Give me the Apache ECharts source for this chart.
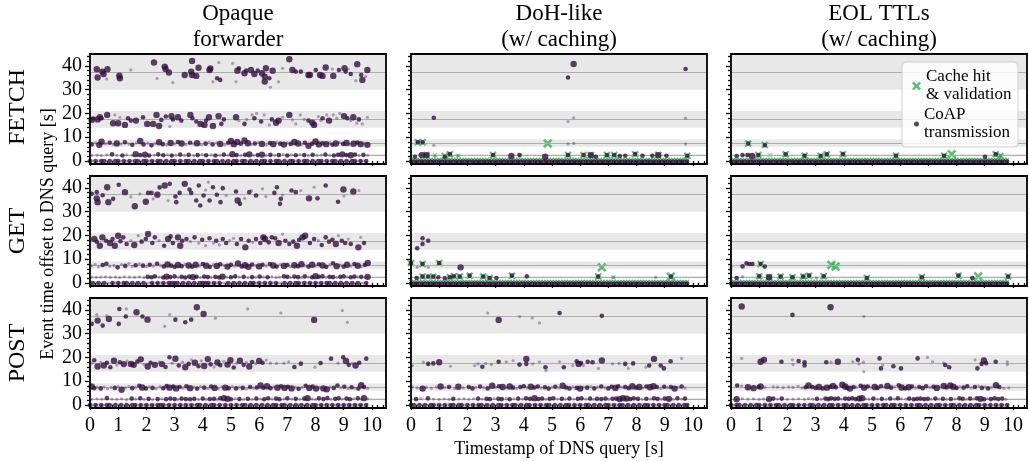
<!DOCTYPE html>
<html><head><meta charset="utf-8">
<script src="https://cdn.jsdelivr.net/npm/echarts@6/dist/echarts.min.js"></script>
<style>html,body{margin:0;padding:0;background:#fff}#c{width:1029px;height:461px}</style>
</head><body><div id="c"></div><script>
// ---------- text ----------
const colTitles = ['Opaque\nforwarder', 'DoH-like\n(w/ caching)', 'EOL TTLs\n(w/ caching)'];
const rowTitles = ['FETCH', 'GET', 'POST'];
const yTitle = 'Event time offset to DNS query [s]';
const xTitle = 'Timestamp of DNS query [s]';
const legendNames = ['Cache hit & validation', 'CoAP transmission'];
const xTickValues = [0,1,2,3,4,5,6,7,8,9,10];
const yTickValues = [0,10,20,30,40];
// CoAP retransmission windows and their means
const bands = [[2,3],[6,9],[14,21],[30,45]];
const refLines = [2.5, 7.5, 17.5, 37.5];

// ---------- data: [timestamp, offset, weight] ----------
const queryTimes = [0,0.1,0.2,0.3,0.4,0.5,0.6,0.7,0.8,0.9,1,1.1,1.2,1.3,1.4,1.5,1.6,1.7,1.8,1.9,2,2.1,2.2,2.3,2.4,2.5,2.6,2.7,2.8,2.9,3,3.1,3.2,3.3,3.4,3.5,3.6,3.7,3.8,3.9,4,4.1,4.2,4.3,4.4,4.5,4.6,4.7,4.8,4.9,5,5.1,5.2,5.3,5.4,5.5,5.6,5.7,5.8,5.9,6,6.1,6.2,6.3,6.4,6.5,6.6,6.7,6.8,6.9,7,7.1,7.2,7.3,7.4,7.5,7.6,7.7,7.8,7.9,8,8.1,8.2,8.3,8.4,8.5,8.6,8.7,8.8,8.9,9,9.1,9.2,9.3,9.4,9.5,9.6,9.7,9.8];

const fetchOpaqueZero = '212122121221212122122121221212212122121221212212121221221212122121221212212122121221212212121221212';
const getOpaqueZero   = '121212112121221212121121212122221212121222212121121212121221212121211212122121212121221212121212112';
const postOpaqueZero  = '212121221212121221212121222121212121212212122121212121221212121212212212121212122121212121212121212';
const postDohZero     = '221212122121212212212121221212122121221212212121221212122121212212121221212212121212212121221212122';
const postEolZero     = '212212121221212122121221212122121212212122121212212121221221212121221212122121221212121221212121212';

const fetchOpaque37 = [[0.24,38.6,3],[0.27,35.1,3],[0.44,37.6,3],[0.48,36.6,3],[0.59,34.5,1],[0.62,38.6,3],[1.04,35.9,3],[1.06,34.8,3],[1.45,38.3,1],[2.27,41.4,3],[2.38,34.7,1],[2.65,39.7,3],[2.68,38.7,3],[2.8,37.2,3],[2.94,33.0,1],[3.36,36.2,3],[3.59,37.6,3],[3.62,42.1,3],[3.62,36.2,3],[3.77,35.8,3],[3.85,39.2,3],[4.24,38.3,3],[4.27,38.9,3],[4.36,33.3,1],[4.51,34.8,2],[4.62,34.1,2],[4.57,41.4,1],[5.06,41.1,1],[5.18,33.3,1],[5.23,38.0,3],[5.28,39.0,2],[5.48,36.9,3],[5.54,38.0,2],[5.71,38.3,3],[5.83,36.6,3],[5.95,38.0,2],[6.1,36.9,3],[6.2,35.5,3],[6.24,39.0,3],[6.2,33.4,3],[6.36,34.8,2],[6.4,31.0,1],[6.48,38.0,3],[6.69,33.3,1],[6.83,39.0,1],[7.07,42.8,3],[7.18,38.3,3],[7.3,37.6,2],[7.48,37.6,2],[7.75,36.2,3],[7.8,36.2,3],[8.01,38.3,2],[8.16,36.2,3],[8.25,35.8,3],[8.36,39.3,3],[8.6,38.7,1],[8.63,35.8,3],[8.83,38.3,2],[9.03,39.0,3],[9.07,37.6,2],[9.16,38.7,1],[9.25,36.6,2],[9.43,33.8,1],[9.48,40.7,3],[9.62,36.2,2],[9.66,34.1,3],[9.78,35.5,1],[9.84,38.3,3]];
const fetchOpaque17 = [[0.06,17.3,3],[0.12,17.9,2],[0.27,17.5,3],[0.35,18.4,3],[0.41,18.0,2],[0.61,19.4,3],[0.82,15.9,3],[0.88,19.4,1],[1.0,15.9,3],[1.06,18.4,1],[1.24,15.2,3],[1.35,18.0,2],[1.45,17.0,2],[1.63,17.0,3],[1.88,18.4,2],[2.03,15.6,3],[2.24,15.6,3],[2.36,19.4,3],[2.45,14.7,3],[2.53,17.3,2],[2.69,18.7,2],[2.83,14.5,1],[2.89,18.9,3],[2.94,17.5,2],[3.12,18.4,3],[3.24,17.0,2],[3.56,19.4,3],[3.63,18.0,2],[3.77,16.6,2],[3.92,15.6,3],[4.06,15.2,3],[4.12,17.0,2],[4.22,18.4,3],[4.36,14.7,3],[4.56,18.9,3],[4.66,15.6,2],[4.75,17.5,2],[5.18,18.4,3],[5.28,17.0,1],[5.48,15.6,2],[5.56,17.5,1],[5.75,19.4,1],[5.83,18.0,2],[5.91,20.0,1],[6.07,16.6,2],[6.18,19.4,1],[6.36,15.2,1],[6.45,17.5,2],[6.6,16.1,3],[6.69,17.0,3],[6.83,18.4,1],[7.07,19.4,3],[7.18,17.3,1],[7.3,15.6,1],[7.46,19.4,1],[7.6,17.5,1],[7.75,17.0,2],[7.89,16.1,3],[7.95,15.2,3],[8.1,18.7,1],[8.19,17.0,1],[8.25,18.0,2],[8.4,19.4,1],[8.48,17.0,3],[8.63,19.4,1],[8.75,18.0,1],[8.86,20.0,1],[9.01,18.9,3],[9.13,18.0,2],[9.25,17.0,1],[9.34,18.4,3],[9.46,15.9,1],[9.54,17.5,2],[9.66,15.6,1],[9.84,18.4,1]];
const fetchOpaque7 = [[0.06,7.0,2],[0.2,7.6,1],[0.33,6.8,3],[0.41,8.1,3],[0.55,7.3,1],[0.7,7.7,2],[0.83,6.9,1],[0.95,7.4,3],[1.1,7.1,1],[1.24,7.9,2],[1.38,7.2,1],[1.5,6.8,2],[1.65,7.6,1],[1.78,8.4,3],[1.9,7.0,2],[2.05,7.5,1],[2.18,6.6,2],[2.3,7.3,1],[2.45,7.9,3],[2.58,7.1,2],[2.72,6.7,1],[2.86,7.6,3],[3.0,7.2,1],[3.12,8.0,2],[3.25,7.4,3],[3.4,6.9,1],[3.55,7.7,2],[3.68,7.2,1],[3.8,7.5,3],[3.95,6.8,1],[4.1,7.3,2],[4.22,7.9,1],[4.35,7.0,2],[4.5,7.6,1],[4.62,7.2,3],[4.78,6.8,1],[4.9,7.7,2],[5.0,8.4,3],[5.1,7.1,3],[5.22,8.0,3],[5.35,7.3,2],[5.48,8.6,3],[5.6,7.5,3],[5.72,6.9,1],[5.85,7.4,2],[5.98,7.8,1],[6.1,7.2,3],[6.25,6.7,1],[6.38,7.6,2],[6.5,7.1,3],[6.62,7.9,1],[6.75,7.3,2],[6.88,6.9,3],[7.0,7.6,1],[7.12,7.2,2],[7.25,8.0,3],[7.38,7.4,3],[7.5,6.8,1],[7.62,7.7,2],[7.75,6.4,3],[7.88,7.3,2],[8.0,8.2,3],[8.12,7.0,3],[8.25,7.5,2],[8.38,7.1,3],[8.5,7.7,1],[8.6,6.9,2],[8.72,7.4,3],[8.85,7.8,1],[8.98,7.2,2],[9.1,7.6,3],[9.22,6.9,1],[9.35,7.3,3],[9.48,7.8,2],[9.6,7.1,3],[9.72,7.5,1],[9.84,6.8,3]];
const fetchOpaque2 = [[0.06,2.4,1],[0.25,2.5,1],[0.4,2.3,1],[0.6,2.6,1],[0.78,2.8,2],[0.95,2.4,1],[1.15,2.3,2],[1.3,2.6,1],[1.5,2.4,1],[1.62,2.9,3],[1.78,2.5,2],[1.95,2.7,3],[2.1,2.3,2],[2.28,2.5,1],[2.42,2.8,2],[2.6,2.4,2],[2.75,2.6,1],[2.9,2.3,2],[3.05,2.5,1],[3.2,2.7,2],[3.35,2.4,1],[3.5,2.6,2],[3.68,2.3,1],[3.82,2.5,2],[3.98,2.8,1],[4.12,2.4,2],[4.3,2.6,1],[4.45,2.3,2],[4.6,2.5,1],[4.75,2.7,2],[4.9,2.4,1],[5.05,2.9,3],[5.2,2.5,2],[5.35,2.3,1],[5.5,2.6,2],[5.65,2.8,3],[5.8,2.4,1],[5.95,2.5,2],[6.1,2.7,3],[6.25,2.3,1],[6.4,2.6,2],[6.55,2.4,1],[6.7,2.5,2],[6.85,2.8,1],[7.0,2.3,2],[7.15,2.6,1],[7.3,2.4,2],[7.45,2.7,1],[7.6,2.5,2],[7.75,2.3,1],[7.9,2.6,2],[8.05,2.4,1],[8.2,2.5,1],[8.35,2.7,2],[8.5,2.4,1],[8.65,2.3,2],[8.8,2.6,2],[8.95,2.8,3],[9.1,2.5,2],[9.25,2.4,3],[9.4,2.7,2],[9.55,2.3,1],[9.7,2.6,2],[9.85,2.4,1]];

const getOpaque37 = [[0.06,37.5,2],[0.24,38.2,2],[0.24,35.6,3],[0.27,34.0,3],[0.45,36.9,2],[0.61,40.3,3],[0.65,34.0,3],[0.82,35.4,2],[1.02,41.3,2],[1.24,38.2,3],[1.45,36.2,1],[1.59,32.3,3],[1.77,37.5,1],[1.98,34.2,3],[2.06,37.9,2],[2.18,37.9,2],[2.24,35.4,1],[2.39,37.1,3],[2.47,40.2,2],[2.65,41.0,3],[2.77,34.7,1],[2.83,41.7,2],[3.03,36.4,2],[3.06,34.0,2],[3.18,37.9,2],[3.36,41.7,3],[3.53,39.3,2],[3.59,37.9,2],[3.77,34.7,2],[3.86,41.0,2],[3.91,32.6,2],[4.03,36.8,2],[4.1,39.1,1],[4.2,42.4,1],[4.24,34.7,2],[4.36,40.3,2],[4.5,37.1,2],[4.63,34.0,2],[4.71,39.9,2],[4.83,36.8,1],[5.18,38.5,2],[5.24,34.7,3],[5.32,33.3,2],[5.48,35.6,1],[5.65,38.2,2],[5.73,38.9,1],[5.89,36.8,2],[6.12,39.6,1],[6.24,36.4,1],[6.54,37.9,2],[6.63,40.3,2],[6.77,35.4,2],[6.74,33.3,2],[6.83,37.0,1],[7.15,38.9,2],[7.3,38.2,2],[7.48,38.9,1],[7.77,35.6,3],[7.95,40.3,1],[8.07,35.6,2],[8.36,41.0,2],[8.8,34.2,2],[8.99,39.3,3],[9.01,36.6,1],[9.34,38.5,3],[9.54,38.9,1]];
const getOpaque17 = [[0.15,18.5,3],[0.24,17.4,2],[0.35,15.7,3],[0.44,19.2,3],[0.57,17.8,2],[0.71,16.8,3],[0.8,18.5,2],[0.88,15.7,3],[1.0,19.9,3],[1.08,17.6,2],[1.18,19.2,2],[1.3,16.4,2],[1.45,17.8,1],[1.57,16.0,3],[1.71,19.9,1],[1.83,17.4,2],[1.98,18.5,2],[2.06,20.6,3],[2.21,16.8,2],[2.3,19.2,2],[2.45,17.8,1],[2.63,15.7,2],[2.77,18.5,3],[2.86,19.6,2],[2.94,16.8,2],[3.12,19.2,3],[3.2,15.7,3],[3.27,17.8,2],[3.42,18.5,2],[3.56,17.4,1],[3.71,19.2,2],[3.86,16.8,1],[3.98,18.2,2],[4.1,15.7,1],[4.24,18.8,2],[4.38,16.8,1],[4.48,17.8,2],[4.59,16.0,1],[4.71,18.5,2],[4.83,16.8,2],[4.95,17.8,1],[5.09,18.8,1],[5.21,16.4,2],[5.36,18.5,2],[5.51,15.0,3],[5.63,17.8,2],[5.77,17.1,1],[5.89,18.5,2],[6.04,16.8,2],[6.15,19.2,3],[6.21,18.5,3],[6.34,17.1,2],[6.45,19.2,2],[6.57,18.8,2],[6.69,16.8,3],[6.83,20.6,1],[6.93,17.8,2],[7.07,16.4,2],[7.21,17.4,2],[7.34,15.7,3],[7.42,18.2,2],[7.54,19.2,3],[7.63,19.9,3],[7.8,16.8,2],[7.95,18.5,2],[8.1,17.8,1],[8.22,16.0,2],[8.36,19.2,2],[8.48,17.4,2],[8.6,18.2,2],[8.72,16.4,3],[8.81,19.9,1],[8.93,17.8,2],[9.05,16.8,2],[9.16,18.5,1],[9.25,16.4,2],[9.52,15.0,3],[9.6,19.2,1],[9.72,16.8,2]];
const getOpaque7 = [[0.06,7.2,1],[0.18,7.9,1],[0.3,6.8,1],[0.45,7.6,2],[0.58,8.1,2],[0.7,7.1,1],[0.85,7.4,1],[0.98,6.6,2],[1.12,7.8,1],[1.25,7.2,2],[1.38,8.3,1],[1.5,7.0,1],[1.62,7.5,2],[1.75,8.0,1],[1.88,7.3,2],[2.0,6.9,1],[2.12,7.7,2],[2.25,7.2,1],[2.38,8.1,2],[2.5,7.4,1],[2.62,7.0,2],[2.75,7.8,3],[2.88,7.3,2],[3.0,6.8,2],[3.12,7.6,3],[3.25,7.1,2],[3.38,7.9,1],[3.5,7.4,3],[3.62,6.9,2],[3.75,7.7,3],[3.88,7.2,1],[4.0,8.0,2],[4.12,7.3,3],[4.25,6.8,2],[4.38,7.6,1],[4.5,7.2,3],[4.62,7.9,2],[4.75,7.4,1],[4.88,6.9,3],[5.0,7.7,2],[5.12,7.2,1],[5.25,8.2,3],[5.38,7.0,2],[5.5,7.5,3],[5.62,6.8,3],[5.75,7.8,2],[5.88,7.3,1],[6.0,7.0,3],[6.12,7.7,2],[6.25,7.2,1],[6.38,8.0,2],[6.5,7.4,3],[6.62,6.9,2],[6.75,7.8,1],[6.88,7.2,3],[7.0,7.6,2],[7.12,6.8,1],[7.25,7.5,3],[7.38,7.1,2],[7.5,7.9,3],[7.62,7.3,1],[7.75,6.9,2],[7.88,7.7,3],[8.0,7.2,1],[8.12,7.9,2],[8.25,7.4,3],[8.38,6.8,2],[8.5,7.6,1],[8.62,8.3,2],[8.75,7.1,3],[8.88,7.5,1],[9.0,6.9,2],[9.12,7.7,3],[9.25,7.2,1],[9.38,8.0,2],[9.5,7.3,3],[9.62,6.8,1],[9.75,7.6,2],[9.85,8.4,3]];
const getOpaque2 = [[0.06,2.5,1],[0.22,2.4,1],[0.38,2.5,1],[0.55,2.6,1],[0.72,2.4,1],[0.9,2.5,1],[1.05,2.3,1],[1.22,2.6,1],[1.4,2.5,1],[1.58,2.4,1],[1.75,2.6,1],[1.92,2.3,1],[2.05,2.6,2],[2.18,2.4,2],[2.3,2.8,2],[2.45,2.5,1],[2.6,2.3,2],[2.72,2.7,3],[2.85,2.5,2],[3.0,2.8,2],[3.12,2.4,1],[3.25,2.6,2],[3.38,2.3,2],[3.52,2.7,2],[3.65,2.5,3],[3.78,2.6,2],[3.92,2.3,1],[4.05,2.7,2],[4.18,2.5,2],[4.3,2.4,1],[4.45,2.6,2],[4.58,2.3,2],[4.7,2.7,3],[4.85,2.5,1],[5.0,2.4,2],[5.15,2.8,2],[5.3,2.5,1],[5.45,2.6,2],[5.6,2.3,1],[5.75,2.5,2],[5.88,2.4,1],[6.02,2.7,2],[6.15,2.5,1],[6.3,2.4,2],[6.45,2.6,1],[6.6,2.3,1],[6.72,2.5,1],[6.88,2.8,2],[7.0,2.6,2],[7.12,2.4,1],[7.25,2.7,2],[7.38,2.5,2],[7.5,2.3,1],[7.62,2.8,2],[7.75,2.5,1],[7.88,2.4,2],[8.0,2.9,3],[8.12,2.6,2],[8.25,2.8,2],[8.38,2.4,1],[8.5,2.6,2],[8.62,2.5,2],[8.75,2.3,1],[8.88,2.6,2],[9.0,2.8,2],[9.12,2.5,1],[9.25,2.4,2],[9.38,2.7,2],[9.5,2.5,1],[9.62,2.6,2],[9.75,2.4,1],[9.85,2.6,3]];

const postOpaque37 = [[0.06,34.1,2],[0.24,38.0,1],[0.27,35.5,3],[0.45,33.4,2],[0.59,37.6,1],[0.67,36.2,3],[1.02,34.1,2],[1.04,40.4,2],[1.27,37.2,2],[1.29,40.4,1],[1.65,39.0,3],[1.86,37.2,2],[2.04,35.9,3],[2.65,33.1,1],[2.83,38.0,1],[3.03,35.9,2],[3.38,34.8,2],[3.59,35.9,2],[3.79,41.1,3],[4.03,38.3,3],[4.45,36.5,1],[5.59,40.4,1],[6.77,38.7,1],[7.95,35.8,3],[8.95,39.7,1],[9.13,34.8,1]];
const postOpaque17 = [[0.06,17.6,1],[0.15,18.8,2],[0.27,16.2,3],[0.38,17.9,1],[0.49,16.6,3],[0.6,17.8,2],[0.72,15.9,2],[0.85,18.6,3],[0.95,16.8,1],[1.06,18.0,2],[1.2,17.2,3],[1.32,18.5,1],[1.45,17.3,3],[1.55,16.9,3],[1.68,18.3,2],[1.8,19.2,3],[1.92,17.0,1],[2.05,16.2,3],[2.15,17.8,2],[2.3,16.9,3],[2.45,18.1,1],[2.55,17.2,3],[2.68,16.0,2],[2.82,20.1,2],[2.92,17.6,1],[3.03,19.5,3],[3.15,16.6,2],[3.28,18.0,1],[3.38,15.9,3],[3.5,17.3,2],[3.6,19.0,1],[3.72,17.8,3],[3.85,16.3,2],[3.95,18.6,1],[4.05,16.4,3],[4.18,19.3,3],[4.28,17.1,2],[4.4,16.0,1],[4.52,17.9,3],[4.62,16.7,2],[4.75,18.3,1],[4.88,17.0,3],[4.98,18.8,3],[5.1,15.8,2],[5.2,17.6,1],[5.32,18.6,3],[5.45,16.9,2],[5.55,17.9,1],[5.65,16.2,3],[5.75,18.1,2],[5.88,17.4,1],[6.0,18.5,3],[6.12,17.8,2],[6.25,18.9,1],[6.4,17.6,1],[6.62,17.5,1],[6.88,17.6,1],[7.05,18.2,1],[7.25,16.0,2],[7.48,17.4,2],[7.98,15.9,1],[8.18,17.7,2],[8.55,19.5,2],[8.8,17.6,1],[8.98,20.1,2],[9.08,18.5,3],[9.18,16.9,2],[9.3,17.5,1],[9.42,16.6,3],[9.55,17.8,2],[9.8,19.5,2]];
const postOpaque7 = [[0.06,7.8,3],[0.15,7.1,2],[0.25,7.5,1],[0.38,7.0,2],[0.5,7.6,1],[0.62,6.8,1],[0.75,7.4,1],[0.88,7.2,2],[1.0,7.7,1],[1.12,6.4,3],[1.25,7.3,1],[1.38,7.8,1],[1.5,7.1,2],[1.62,7.5,1],[1.75,8.1,2],[1.85,7.4,3],[1.98,7.0,2],[2.1,7.6,1],[2.22,7.2,2],[2.35,6.9,1],[2.48,7.7,1],[2.6,7.1,2],[2.72,8.0,2],[2.82,7.3,3],[2.95,7.8,2],[3.05,7.0,3],[3.18,7.6,2],[3.3,7.2,1],[3.42,7.9,2],[3.55,7.1,3],[3.68,7.5,1],[3.8,6.9,2],[3.92,7.7,1],[4.05,7.3,2],[4.18,7.0,1],[4.3,7.8,2],[4.42,7.2,3],[4.55,6.9,1],[4.68,7.6,1],[4.8,7.3,3],[4.92,7.1,2],[5.05,7.7,1],[5.18,7.0,2],[5.3,7.5,1],[5.42,7.2,2],[5.55,6.8,1],[5.68,7.6,2],[5.8,7.1,1],[5.92,7.4,2],[6.05,8.2,3],[6.15,7.3,2],[6.28,7.9,3],[6.4,7.1,2],[6.52,7.6,1],[6.65,7.3,3],[6.78,7.9,2],[6.9,7.2,3],[7.02,7.7,2],[7.15,7.0,3],[7.28,7.5,1],[7.4,6.8,2],[7.52,7.4,1],[7.65,8.1,2],[7.78,7.2,3],[7.9,7.8,2],[8.02,6.9,3],[8.15,7.4,1],[8.28,7.0,3],[8.4,6.6,3],[8.52,7.5,1],[8.65,7.2,2],[8.78,8.2,2],[8.9,7.3,1],[9.02,7.7,2],[9.15,7.0,1],[9.28,7.5,2],[9.4,7.1,1],[9.52,6.9,2],[9.62,8.3,3],[9.72,7.6,2],[9.85,7.0,1]];
const postOpaque2 = [[0.06,2.4,1],[0.25,2.6,1],[0.42,2.5,1],[0.6,2.9,2],[0.78,2.5,1],[0.95,2.4,1],[1.12,2.6,1],[1.3,2.3,1],[1.48,2.7,2],[1.62,2.5,1],[1.78,2.8,2],[1.92,2.4,1],[2.08,2.6,2],[2.22,2.3,1],[2.4,2.5,2],[2.55,2.6,1],[2.7,2.4,2],[2.85,2.7,2],[3.0,2.5,2],[3.12,2.3,1],[3.25,2.7,2],[3.4,2.5,2],[3.55,2.4,2],[3.7,2.6,2],[3.85,2.3,1],[4.0,2.7,2],[4.12,2.4,1],[4.25,2.5,2],[4.4,2.6,2],[4.52,2.3,1],[4.62,2.8,2],[4.75,2.9,3],[4.88,2.6,3],[5.0,2.4,2],[5.15,2.7,1],[5.3,2.5,2],[5.45,2.3,1],[5.6,2.6,2],[5.75,2.4,1],[5.9,2.7,2],[6.05,2.5,1],[6.18,2.4,2],[6.32,2.8,2],[6.45,2.5,1],[6.6,2.7,2],[6.72,2.4,2],[6.88,2.6,1],[7.0,2.8,2],[7.15,2.5,1],[7.3,2.6,2],[7.45,2.4,1],[7.6,2.7,2],[7.72,2.9,3],[7.88,2.5,1],[8.0,2.3,1],[8.12,2.8,2],[8.28,2.5,2],[8.42,2.9,2],[8.55,2.4,1],[8.7,2.6,2],[8.82,2.8,2],[8.95,2.5,1],[9.1,2.7,2],[9.22,2.4,2],[9.35,2.6,1],[9.5,2.8,2],[9.62,2.5,1],[9.72,2.9,3],[9.85,2.6,1]];

const postDoh37 = [[2.72,38.7,1],[3.11,35.8,3],[3.85,37.2,1],[4.3,36.6,1],[4.56,34.5,1],[5.27,38.7,2],[6.77,37.5,2]];
const postDoh17 = [[0.05,16.6,1],[0.44,18.0,1],[0.61,17.3,2],[0.79,17.5,2],[1.0,18.0,3],[1.4,16.3,1],[2.26,16.6,1],[2.38,17.3,1],[2.53,16.1,2],[2.65,17.5,1],[2.85,17.0,1],[3.11,18.2,2],[3.38,18.2,1],[3.62,18.7,1],[3.85,17.0,2],[4.09,19.4,3],[4.09,17.3,2],[4.32,17.3,1],[4.56,18.2,1],[4.77,15.9,2],[4.79,14.5,1],[5.27,18.2,1],[5.42,15.9,2],[5.74,16.6,1],[5.88,18.4,2],[5.95,17.3,3],[6.03,17.7,2],[6.12,16.6,1],[6.27,18.2,2],[6.44,18.0,2],[6.65,15.4,1],[6.77,18.7,3],[7.15,17.3,1],[7.38,17.5,1],[7.6,17.3,2],[7.71,15.4,1],[7.88,17.5,2],[8.33,15.9,1],[8.45,16.6,2],[8.62,19.4,3],[8.86,16.6,2],[8.97,15.4,2],[9.21,18.4,2],[9.6,19.6,1]];
const postDoh7 = [[0.05,7.6,1],[0.22,7.2,1],[0.41,6.9,3],[0.55,7.4,1],[0.72,7.1,1],[0.9,7.5,1],[1.05,7.8,3],[1.2,7.3,1],[1.35,7.6,2],[1.55,7.0,1],[1.68,7.7,3],[1.85,7.2,1],[2.05,7.6,2],[2.18,7.0,2],[2.3,7.4,1],[2.45,7.8,2],[2.58,7.3,1],[2.72,7.0,2],[2.88,8.1,3],[3.0,7.4,1],[3.12,7.9,2],[3.25,7.6,3],[3.38,7.2,1],[3.5,7.8,3],[3.62,7.3,2],[3.75,7.0,1],[3.88,7.6,2],[4.0,7.9,2],[4.12,7.2,1],[4.25,7.7,3],[4.38,7.4,2],[4.5,7.8,2],[4.62,7.2,1],[4.75,7.5,2],[4.88,6.9,2],[5.0,7.4,1],[5.12,7.7,2],[5.25,7.2,1],[5.38,8.1,3],[5.5,7.4,2],[5.62,7.0,2],[5.75,7.6,1],[5.88,7.2,2],[6.0,6.9,3],[6.12,7.5,1],[6.25,7.3,2],[6.38,7.7,1],[6.5,7.0,2],[6.62,7.5,1],[6.75,7.8,2],[6.88,7.3,1],[7.0,7.0,2],[7.12,7.7,2],[7.25,7.2,3],[7.35,7.9,2],[7.48,7.4,1],[7.6,7.6,2],[7.72,7.1,2],[7.85,7.9,3],[7.98,7.3,2],[8.1,7.6,3],[8.22,7.2,1],[8.35,7.8,2],[8.48,7.5,3],[8.6,7.9,3],[8.72,7.6,2],[8.85,7.0,1],[8.98,7.7,2],[9.1,7.3,1],[9.22,7.6,2],[9.35,6.9,3],[9.48,7.4,1],[9.6,7.8,2],[9.72,7.2,1]];
const postDoh2 = [[0.18,2.5,2],[0.35,2.7,1],[0.6,2.8,2],[0.8,2.5,1],[1.0,2.4,1],[1.18,2.6,1],[1.35,2.4,1],[1.5,2.6,2],[1.7,2.5,1],[1.88,2.6,1],[2.05,2.4,1],[2.22,2.6,1],[2.38,2.7,2],[2.52,2.5,1],[2.68,2.6,2],[2.8,2.5,2],[2.95,2.7,1],[3.1,2.6,2],[3.22,2.5,2],[3.38,2.7,1],[3.5,2.4,2],[3.65,2.6,1],[3.8,2.7,2],[3.95,2.5,1],[4.08,2.8,2],[4.22,2.6,2],[4.38,2.9,3],[4.52,2.5,2],[4.65,2.7,2],[4.78,2.4,1],[4.92,2.6,2],[5.05,2.8,2],[5.2,2.5,1],[5.35,2.6,2],[5.48,2.4,1],[5.62,2.7,2],[5.78,2.5,1],[5.92,2.6,2],[6.05,2.8,2],[6.2,2.5,1],[6.35,2.7,2],[6.48,2.4,1],[6.6,2.6,2],[6.75,2.5,2],[6.9,2.7,2],[7.02,2.4,1],[7.15,2.6,2],[7.28,2.7,2],[7.4,2.5,3],[7.52,2.9,3],[7.65,2.7,3],[7.78,2.5,2],[7.9,2.8,2],[8.05,2.6,2],[8.2,2.4,1],[8.35,2.6,2],[8.5,2.5,1],[8.62,2.8,2],[8.75,2.6,2],[8.88,2.5,1],[9.0,2.7,2],[9.15,2.6,3],[9.3,2.4,1],[9.45,2.8,2],[9.6,2.5,1],[9.72,2.7,2]];

const postEol37 = [[0.38,41.4,3],[2.18,37.9,2],[3.53,41.1,3],[4.71,37.3,1]];
const postEol17 = [[0.02,16.6,1],[0.38,19.6,1],[1.05,18.2,3],[1.17,19.0,3],[1.79,18.2,2],[2.18,19.0,1],[2.2,17.0,1],[2.4,18.5,2],[2.61,18.0,2],[2.61,16.6,2],[3.38,18.0,2],[3.55,18.0,1],[3.79,18.2,3],[4.32,18.2,1],[4.5,19.0,2],[4.54,17.3,1],[4.7,18.0,1],[4.71,14.0,1],[5.27,19.6,2],[5.32,15.4,2],[5.38,16.8,1],[5.76,16.3,2],[6.03,15.4,2],[6.62,19.6,2],[6.97,20.0,1],[7.15,18.2,1],[7.54,17.7,1],[7.6,16.8,2],[7.74,15.9,2],[8.66,19.0,1],[8.74,15.4,2],[8.89,17.3,2],[8.97,18.7,3],[9.05,17.6,2],[9.39,18.2,2],[9.8,18.2,1],[9.8,17.0,1]];
const postEol7 = [[0.22,8.2,2],[0.38,8.0,1],[0.6,7.5,3],[0.8,7.1,3],[0.98,7.6,2],[1.05,7.8,3],[1.2,7.4,1],[1.5,7.6,1],[1.65,7.5,1],[1.85,7.3,1],[2.05,7.6,1],[2.2,7.4,1],[2.38,7.9,1],[2.52,7.2,1],[2.65,7.5,2],[2.75,8.2,3],[2.88,7.6,2],[3.0,7.2,2],[3.12,7.6,3],[3.25,7.0,2],[3.4,7.3,3],[3.52,7.7,2],[3.62,8.0,3],[3.72,7.5,2],[3.95,8.5,3],[4.05,7.8,3],[4.12,7.2,2],[4.22,6.9,3],[4.35,7.6,2],[4.45,7.4,1],[4.6,8.1,2],[4.72,7.3,3],[4.85,7.8,2],[4.98,7.4,1],[5.1,7.6,3],[5.2,7.2,2],[5.32,7.9,2],[5.45,7.5,1],[5.55,8.0,3],[5.68,7.3,2],[5.8,7.6,1],[5.95,8.3,2],[6.05,7.4,3],[6.18,7.0,2],[6.3,7.5,3],[6.42,7.8,2],[6.55,7.2,1],[6.68,7.6,2],[6.8,7.1,2],[6.92,7.9,2],[7.05,7.4,1],[7.18,7.7,2],[7.3,7.2,3],[7.42,7.6,1],[7.55,8.0,3],[7.65,7.4,2],[7.78,8.2,3],[7.88,7.7,3],[8.0,7.2,2],[8.12,7.6,1],[8.25,7.3,2],[8.38,7.9,2],[8.52,7.2,1],[8.65,7.6,2],[8.78,8.0,1],[8.9,7.2,2],[9.02,7.6,1],[9.12,7.0,2],[9.25,7.4,1],[9.4,8.3,3],[9.52,7.6,2],[9.68,7.0,1],[9.85,7.2,1]];
const postEol2 = [[0.2,2.4,3],[0.4,2.7,1],[0.6,2.5,1],[0.8,2.6,1],[1.0,2.4,1],[1.15,2.6,1],[1.35,2.5,3],[1.5,2.7,2],[1.65,2.5,1],[1.8,2.7,2],[2.0,2.4,1],[2.2,2.5,1],[2.4,2.6,1],[2.6,2.4,1],[2.75,2.7,1],[2.9,2.5,1],[3.05,2.6,2],[3.2,2.4,1],[3.35,2.7,2],[3.45,2.5,2],[3.55,2.8,2],[3.68,2.6,2],[3.8,2.7,2],[3.92,2.5,1],[4.05,2.7,2],[4.18,2.6,2],[4.3,2.8,2],[4.42,2.5,2],[4.55,2.7,3],[4.65,2.9,3],[4.78,2.6,1],[4.9,2.5,1],[5.05,2.7,2],[5.2,2.5,1],[5.35,2.6,2],[5.5,2.4,1],[5.65,2.7,2],[5.8,2.5,1],[5.92,2.8,2],[6.05,2.6,1],[6.2,2.5,1],[6.32,2.7,2],[6.48,2.4,2],[6.6,2.6,2],[6.72,2.7,2],[6.85,2.5,2],[6.98,2.6,2],[7.1,2.4,1],[7.25,2.7,2],[7.38,2.5,1],[7.52,2.6,2],[7.65,2.4,1],[7.8,2.5,2],[7.95,2.6,1],[8.1,2.8,2],[8.22,2.6,2],[8.35,2.4,1],[8.48,2.7,2],[8.6,2.5,1],[8.72,2.8,2],[8.85,2.6,3],[8.98,2.4,2],[9.1,2.7,1],[9.22,2.5,2],[9.35,2.8,2],[9.48,2.5,2],[9.62,2.7,2],[9.75,2.4,1]];

// caching proxies: CoAP transmissions and cache hits (besides the per-query row at ~0 s)
const fetchDohCoap = [[5.77,40.8,3],[5.57,35.1,2],[9.74,38.7,2],[0.81,18.2,2],[5.57,16.6,1],[5.77,18.2,1],[9.74,18.0,1],[0.81,6.6,1],[5.57,7.2,1],[5.77,7.4,1],[9.74,7.2,1],[0.24,7.9,2],[0.41,7.9,2],[0.14,1.8,2],[0.38,2.5,3],[0.55,2.5,3],[0.85,2.1,1],[1.2,1.8,2],[1.38,2.9,2],[1.67,2.2,1],[2.91,2.5,2],[3.56,2.1,3],[3.85,2.5,2],[4.76,1.8,3],[5.57,2.5,2],[6.12,2.5,2],[6.38,2.5,3],[6.56,1.8,2],[6.95,2.5,2],[7.21,2.5,2],[7.41,2.1,2],[7.6,2.2,2],[7.95,2.9,2],[8.21,2.2,2],[8.56,2.2,2],[8.77,2.5,3],[9.06,2.2,2],[9.8,2.2,2]];
const fetchDohCache = [[0.24,7.9,2],[0.41,7.9,2],[4.85,7.4,3],[0.55,2.5,2],[0.85,2.5,1],[1.2,2.1,2],[1.38,2.9,2],[1.67,2.2,1],[2.91,2.5,2],[3.85,2.3,1],[5.57,2.5,2],[6.12,2.5,2],[6.38,2.5,2],[6.95,2.5,2],[7.21,2.5,2],[7.95,2.9,2],[8.77,2.5,2],[9.8,2.2,2]];
const fetchEolCoap = [[0.61,7.4,2],[1.2,6.7,2],[0.2,2.1,2],[0.41,2.5,2],[0.59,2.5,2],[0.75,2.1,3],[0.97,2.5,2],[1.94,2.8,2],[2.61,2.2,2],[3.18,2.1,2],[3.4,2.8,2],[3.97,2.9,2],[5.85,2.2,2],[7.56,2.2,2],[9.01,1.8,2],[9.39,2.8,2],[9.56,2.1,1]];
const fetchEolCache = [[0.61,7.4,2],[1.2,6.7,2],[0.59,2.5,1],[0.97,2.5,2],[1.38,2.5,1],[1.94,2.8,2],[2.61,2.2,2],[3.18,2.1,2],[3.4,2.8,2],[3.97,2.9,2],[5.85,2.2,2],[7.56,2.2,2],[7.83,2.9,3],[9.39,2.8,2],[9.56,2.1,2]];
const getDohCoap = [[0.41,18.8,2],[0.61,17.8,2],[0.41,16.4,2],[0.22,14.6,2],[0.0,8.4,2],[0.41,8.0,2],[0.61,6.6,1],[0.22,6.6,1],[1.0,8.4,2],[1.76,6.6,3],[0.2,2.1,2],[0.41,2.7,2],[0.61,2.7,2],[0.79,2.7,2],[0.97,2.4,2],[1.2,2.0,2],[1.38,2.4,2],[1.52,2.8,2],[1.73,2.7,2],[2.08,3.1,2],[2.56,2.7,2],[2.79,2.1,2],[3.03,2.1,2],[3.58,3.1,2],[4.11,2.8,2],[6.64,2.7,2],[7.18,2.4,1],[8.68,2.4,1],[9.22,2.7,2]];
const getDohCache = [[0.0,8.4,2],[0.41,8.0,2],[1.0,8.4,2],[6.77,6.6,3],[0.41,2.7,2],[0.61,2.7,1],[0.79,2.7,2],[1.38,2.4,2],[1.52,2.8,2],[1.73,2.7,2],[2.08,3.1,2],[2.56,2.7,2],[2.79,2.1,2],[3.58,3.1,2],[6.64,2.7,2],[7.18,2.4,1],[9.22,2.7,3]];
const getEolCoap = [[0.41,7.0,2],[0.55,8.3,2],[0.65,8.0,2],[0.76,8.0,2],[1.05,8.0,2],[1.2,6.9,2],[0.2,2.1,2],[0.41,2.7,1],[1.0,2.8,2],[1.35,2.4,3],[1.76,2.7,2],[2.18,2.4,2],[2.56,2.7,2],[2.77,3.1,2],[3.03,2.1,1],[3.29,2.8,2],[4.82,2.1,2],[6.77,2.4,2],[8.07,3.1,2],[8.56,2.1,2],[9.83,2.7,2]];
const getEolCache = [[0.0,6.2,1],[1.05,8.0,2],[3.56,7.6,3],[3.71,6.9,3],[1.0,2.8,2],[1.35,2.4,2],[1.76,2.7,2],[2.18,2.4,2],[2.56,2.7,2],[2.77,3.1,2],[3.29,2.8,2],[4.82,2.1,2],[6.77,2.4,2],[8.07,3.1,2],[8.77,2.8,3],[9.83,2.7,2]];

// ---------- layout / style ----------
const FONT = '"Liberation Serif", "DejaVu Serif", serif';
const DARK = '#34103f', LIGHT = 'rgba(74,34,96,0.5)';
const GREEN = '#3fae5a', GREEN_LIGHT = 'rgba(63,174,90,0.55)';
const CROSS = 'path://M2,0 L5,3 L8,0 L10,2 L7,5 L10,8 L8,10 L5,7 L2,10 L0,8 L3,5 L0,2 Z';
const dotSize = {1: 3.2, 2: 4.6, 3: 6.4};
const crossSize = {1: 5.5, 2: 7.5, 3: 9.5};
const gridLeft = [90, 411, 731], gridTop = [54, 176, 298], GW = 296, GH = 110;

const panels = [
  {coap: [fetchOpaque37, fetchOpaque17, fetchOpaque7, fetchOpaque2], zero: fetchOpaqueZero},
  {coap: [fetchDohCoap], cache: fetchDohCache},
  {coap: [fetchEolCoap], cache: fetchEolCache},
  {coap: [getOpaque37, getOpaque17, getOpaque7, getOpaque2], zero: getOpaqueZero},
  {coap: [getDohCoap], cache: getDohCache},
  {coap: [getEolCoap], cache: getEolCache},
  {coap: [postOpaque37, postOpaque17, postOpaque7, postOpaque2], zero: postOpaqueZero},
  {coap: [postDoh37, postDoh17, postDoh7, postDoh2], zero: postDohZero},
  {coap: [postEol37, postEol17, postEol7, postEol2], zero: postEolZero}
];

const xMinor = [], yMinor = [];
for (let k = 0; k <= 52; k++) { if (k % 5) xMinor.push(+(k * 0.2).toFixed(1)); }
for (let k = 1; k <= 22; k++) { if (k % 5) yMinor.push(k * 2); }

const grids = [], xAxes = [], yAxes = [], series = [];
const tickStyle = {color: '#000', width: 1.3};
panels.forEach((p, i) => {
  const r = Math.floor(i / 3), c = i % 3;
  grids.push({left: gridLeft[c], top: gridTop[r], width: GW, height: GH, show: true,
    borderColor: '#000', borderWidth: 1.8, backgroundColor: 'transparent', z: 10});
  const xBase = {gridIndex: i, type: 'value', min: 0, max: 10.5, position: 'bottom', offset: 0,
    axisLine: {show: false}, splitLine: {show: false}};
  xAxes.push(Object.assign({}, xBase, {
    axisTick: {show: true, customValues: xTickValues, length: 5, lineStyle: tickStyle},
    axisLabel: {show: r === 2, customValues: xTickValues, fontSize: 20, fontFamily: FONT, color: '#000', margin: 8}}));
  xAxes.push(Object.assign({}, xBase, {
    axisTick: {show: true, customValues: xMinor, length: 3, lineStyle: tickStyle},
    axisLabel: {show: false}}));
  const yBase = {gridIndex: i, type: 'value', min: -1.25, max: 45, position: 'left', offset: 0,
    axisLine: {show: false}, splitLine: {show: false}};
  yAxes.push(Object.assign({}, yBase, {
    axisTick: {show: true, customValues: yTickValues, length: 5, lineStyle: tickStyle},
    axisLabel: {show: c === 0, customValues: yTickValues, fontSize: 20, fontFamily: FONT, color: '#000', margin: 8}}));
  yAxes.push(Object.assign({}, yBase, {
    axisTick: {show: true, customValues: yMinor, length: 3, lineStyle: tickStyle},
    axisLabel: {show: false}}));
  const ax = {xAxisIndex: 2 * i, yAxisIndex: 2 * i};
  // background windows + mean lines
  series.push(Object.assign({type: 'scatter', data: [[-5, -5]], symbolSize: 0, silent: true, z: 1,
    markArea: {silent: true, itemStyle: {color: '#e8e8e8'}, data: bands.map(b => [{yAxis: b[0]}, {yAxis: b[1]}])},
    markLine: {silent: true, symbol: 'none', label: {show: false}, lineStyle: {color: '#adadad', width: 1.1, type: 'solid'},
      data: refLines.map(v => ({yAxis: v}))}}, ax));
  // cache-hit row just above 0 s (caching proxies)
  if (p.cache) {
    series.push(Object.assign({type: 'scatter', name: legendNames[0], data: queryTimes.map(t => [t, 0.6]),
      symbol: CROSS, symbolSize: 4, z: 2, silent: true, itemStyle: {color: GREEN}}, ax));
  }
  // row of first transmissions at 0 s
  const zeroData = queryTimes.map((t, k) => [t, p.zero ? 0 : -0.15, p.zero ? +(p.zero.charAt(k) || 2) : 2]);
  series.push(Object.assign({type: 'scatter', name: legendNames[1], data: zeroData, z: 3, silent: true,
    symbolSize: v => (p.zero ? dotSize[v[2]] : 4.4),
    itemStyle: {color: prm => (prm.data[2] === 1 ? LIGHT : DARK)}}, ax));
  if (p.cache) {
    series.push(Object.assign({type: 'scatter', name: legendNames[0], data: p.cache.slice().sort((a, b) => a[2] - b[2]),
      symbol: CROSS, z: 4, silent: true, symbolSize: v => crossSize[v[2]],
      itemStyle: {color: prm => (prm.data[2] === 1 ? GREEN_LIGHT : GREEN)}}, ax));
  }
  const coap = [].concat(...p.coap).sort((a, b) => a[2] - b[2]);
  series.push(Object.assign({type: 'scatter', name: legendNames[1], data: coap, z: 5, silent: true,
    symbolSize: v => dotSize[v[2]],
    itemStyle: {color: prm => (prm.data[2] === 1 ? LIGHT : DARK)}}, ax));
});

const graphic = [];
colTitles.forEach((t, c) => graphic.push({type: 'text', z: 100, x: gridLeft[c] + GW / 2, y: 27,
  style: {text: t, font: '23px ' + FONT, fill: '#000', align: 'center', verticalAlign: 'middle', lineHeight: 26}}));
rowTitles.forEach((t, r) => graphic.push({type: 'text', z: 100, x: 18, y: gridTop[r] + GH / 2 - (r === 0 ? 2 : 0), rotation: Math.PI / 2,
  style: {text: t, font: '24px ' + FONT, fill: '#000', align: 'center', verticalAlign: 'middle'}}));
graphic.push({type: 'text', z: 100, x: 48, y: 234, rotation: Math.PI / 2,
  style: {text: yTitle, font: '18px ' + FONT, fill: '#000', align: 'center', verticalAlign: 'middle'}});
graphic.push({type: 'text', z: 100, x: gridLeft[1] + GW / 2, y: 449,
  style: {text: xTitle, font: '18px ' + FONT, fill: '#000', align: 'center', verticalAlign: 'middle'}});
graphic.push({type: 'rect', z: 50, x: 902, y: 62, shape: {width: 116, height: 85, r: 4},
  style: {fill: 'rgba(255,255,255,0.82)', stroke: '#cfcfcf', lineWidth: 1}});

const legendText = {'Cache hit & validation': 'Cache hit\n& validation', 'CoAP transmission': 'CoAP\ntransmission'};
const legBase = {orient: 'vertical', selectedMode: false, z: 60, itemGap: 4, padding: 0,
  formatter: n => legendText[n], textStyle: {fontFamily: FONT, fontSize: 17, lineHeight: 18, color: '#000'}};
const chart = echarts.init(document.getElementById('c'));
chart.setOption({
  animation: false,
  backgroundColor: '#fff',
  grid: grids, xAxis: xAxes, yAxis: yAxes, series: series, graphic: graphic,
  legend: [
    Object.assign({}, legBase, {left: 912, top: 68, itemWidth: 9, itemHeight: 9,
      data: [{name: legendNames[0], icon: CROSS, itemStyle: {color: GREEN}}]}),
    Object.assign({}, legBase, {left: 914, top: 106, itemWidth: 5, itemHeight: 5,
      data: [{name: legendNames[1], icon: 'circle', itemStyle: {color: DARK}}]})
  ]
});
</script></body></html>
